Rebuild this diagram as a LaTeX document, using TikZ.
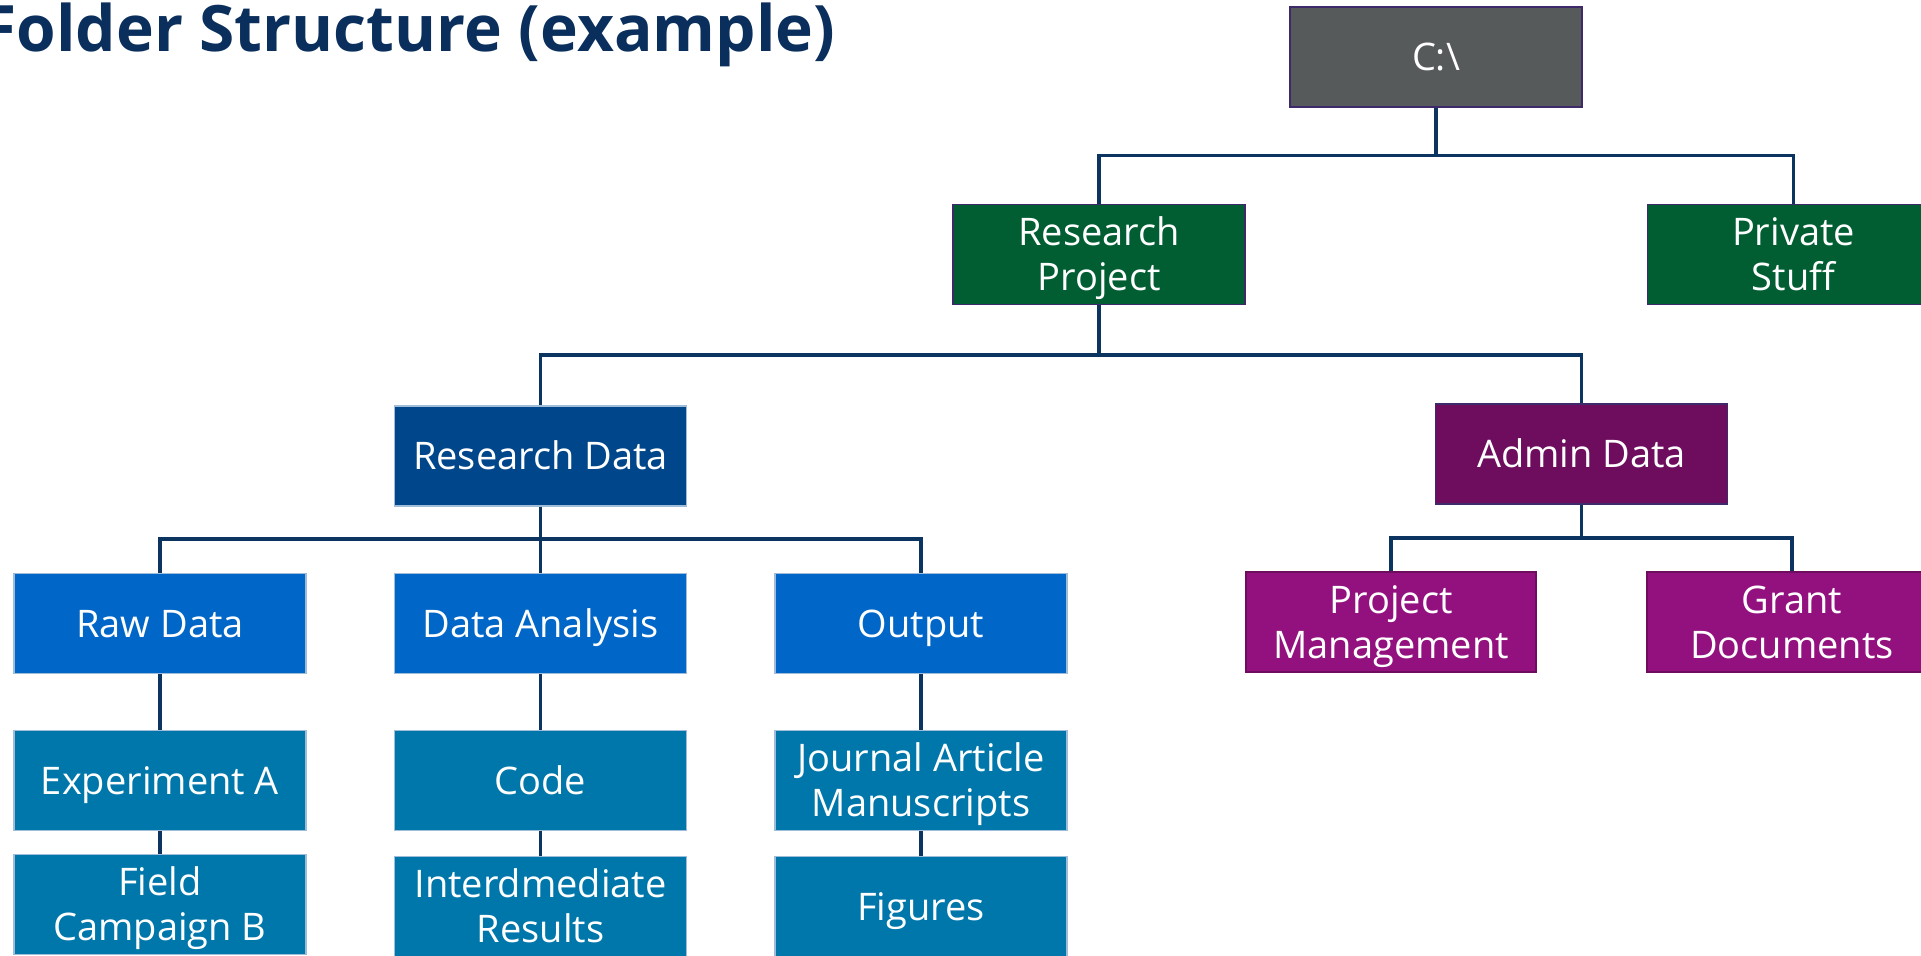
\documentclass[tikz,border=0pt]{standalone}
\usepackage{fontspec}
\setmainfont{Open Sans}
\definecolor{titlec}{HTML}{0B2F5C}
\definecolor{linec}{HTML}{0B3461}
\definecolor{grayc}{HTML}{575A5B}
\definecolor{greenc}{HTML}{005E32}
\definecolor{rdc}{HTML}{00468B}
\definecolor{adc}{HTML}{6E0D5E}
\definecolor{bluec}{HTML}{0066C8}
\definecolor{tealc}{HTML}{0077AA}
\definecolor{purc}{HTML}{93117E}
\definecolor{bordc}{HTML}{3E2A6A}
\definecolor{lbordc}{HTML}{9FBCD9}
\begin{document}
\begin{tikzpicture}[x=0.5pt,y=-0.5pt,
  box/.style={rectangle, minimum width=146pt, minimum height=50pt, inner sep=0pt,
    text=white, align=center, line width=0.6pt, text height=13.6pt, text depth=0pt,
    font=\fontsize{19}{22.5}\selectfont},
  two/.style={text height=36.1pt},
  gbox/.style={box, fill=grayc, draw=bordc},
  grbox/.style={box, fill=greenc, draw=bordc},
  rdbox/.style={box, fill=rdc, draw=lbordc},
  adbox/.style={box, fill=adc, draw=bordc},
  blbox/.style={box, fill=bluec, draw=lbordc},
  tlbox/.style={box, fill=tealc, draw=lbordc},
  pubox/.style={box, fill=purc, draw=adc, minimum width=145pt},
  conn/.style={draw=linec, line width=1.6pt}
]
\useasboundingbox (0,0) rectangle (1921,956);
\node[anchor=base west, text=titlec, font=\fontsize{32}{34}\selectfont\bfseries, inner sep=0pt] (title) at (-19,51.5) {Folder Structure (example)};

\node[gbox] (croot) at (1436,57) {C:\textbackslash};
\node[grbox, two] (rp) at (1099,254.5) {Research\\Project};
\node[grbox, two] (ps) at (1793.5,254.5) {Private\\Stuff};
\node[rdbox] (rd) at (540.5,456) {Research Data};
\node[adbox] (ad) at (1581.5,454) {Admin Data};
\node[blbox] (raw) at (160,623.5) {Raw Data};
\node[blbox] (da) at (540.5,623.5) {Data Analysis};
\node[blbox] (out) at (921,623.5) {Output};
\node[pubox, two] (pm) at (1391,622) {Project\\Management};
\node[pubox, two] (gd) at (1792,622) {Grant\\Documents};
\node[tlbox] (expa) at (160,780.5) {Experiment A};
\node[tlbox] (code) at (540.5,780.5) {Code};
\node[tlbox, two] (journ) at (921,780.5) {Journal Article\\Manuscripts};
\node[tlbox, two] (field) at (160,904.5) {Field\\Campaign B};
\node[tlbox, two] (interm) at (540.5,906.5) {Interdmediate\\Results};
\node[tlbox] (figs) at (921,906.5) {Figures};

\coordinate (j1) at (1436,155.5);
\coordinate (j2) at (1099,355);
\coordinate (j3) at (540.5,539);
\coordinate (j4) at (1581.5,538);

\draw[conn] (croot.south) -- (j1);
\draw[conn] (rp.north) |- (j1) -| (ps.north);
\draw[conn] (rp.south) -- (j2);
\draw[conn] (rd.north) |- (j2) -| (ad.north);
\draw[conn] (rd.south) -- (da.north);
\draw[conn] (raw.north) |- (j3) -| (out.north);
\draw[conn] (ad.south) -- (j4);
\draw[conn] (pm.north) |- (j4) -| (gd.north);
\draw[conn] (raw.south) -- (expa.north);
\draw[conn] (expa.south) -- (field.north);
\draw[conn] (da.south) -- (code.north);
\draw[conn] (code.south) -- (interm.north);
\draw[conn] (out.south) -- (journ.north);
\draw[conn] (journ.south) -- (figs.north);
\end{tikzpicture}
\end{document}
